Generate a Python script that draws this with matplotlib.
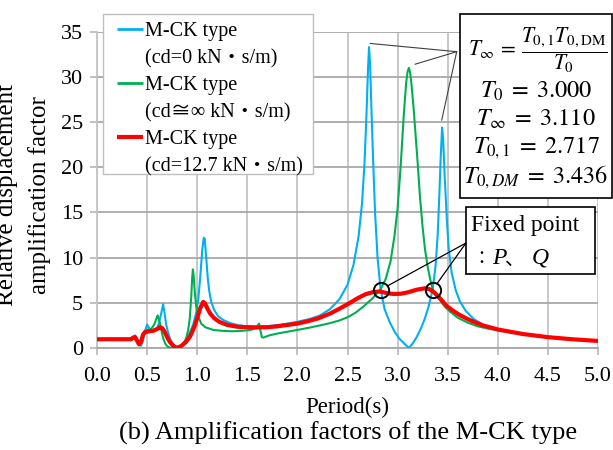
import matplotlib
matplotlib.use("Agg")
import matplotlib.pyplot as plt
from matplotlib.lines import Line2D
from matplotlib.patches import Rectangle

plt.rcParams['font.family'] = ['Liberation Serif', 'DejaVu Serif', 'Noto Sans CJK JP']
plt.rcParams['mathtext.fontset'] = 'stix'

# ---------------- data ----------------
blue_T = [0.0, 0.33, 0.36, 0.38, 0.40, 0.425, 0.44, 0.46, 0.48, 0.50, 0.52, 0.545, 0.57, 0.60, 0.62,
          0.64, 0.66, 0.675, 0.69, 0.71, 0.73, 0.76, 0.79, 0.81, 0.84, 0.87, 0.90, 0.93, 0.96, 0.99,
          1.01, 1.03, 1.05, 1.065, 1.075, 1.09, 1.105, 1.12, 1.14, 1.17, 1.21, 1.26, 1.33, 1.42, 1.55,
          1.7, 1.85, 2.0, 2.12, 2.225, 2.325, 2.42, 2.5, 2.56, 2.61, 2.645, 2.67, 2.69, 2.705, 2.715,
          2.725, 2.74, 2.755, 2.775, 2.8, 2.83, 2.87, 2.92, 2.97, 3.02, 3.07, 3.113, 3.15, 3.19, 3.23,
          3.27, 3.31, 3.35, 3.38, 3.40, 3.415, 3.43, 3.444, 3.455, 3.47, 3.49, 3.51, 3.54, 3.58, 3.62,
          3.68, 3.76, 3.85, 3.95, 4.05, 4.25, 4.5, 4.75, 5.0]
blue_A = [1.0, 1.0, 1.15, 1.4, 1.0, 0.35, 0.25, 0.9, 1.9, 2.6, 2.2, 1.85, 1.9, 2.2, 2.8,
          3.8, 4.85, 3.8, 2.6, 1.7, 1.0, 0.4, 0.08, 0.04, 0.25, 0.6, 1.1, 1.8, 2.6, 3.9,
          5.3, 7.8, 10.8, 12.2, 12.1, 10.0, 7.8, 6.3, 5.1, 4.2, 3.5, 3.1, 2.75, 2.5, 2.35,
          2.4, 2.6, 2.9, 3.2, 3.6, 4.3, 5.4, 7.0, 9.2, 12.3, 16.0, 20.5, 26.0, 31.0, 33.3,
          31.5, 26.0, 21.0, 15.0, 10.0, 6.5, 4.3, 2.9, 1.8, 1.0, 0.45, 0.0, 0.5, 1.2, 2.1,
          3.2, 4.6, 6.5, 9.2, 12.5, 16.5, 21.0, 24.4, 23.0, 19.0, 14.5, 11.0, 8.3, 6.4, 5.2,
          4.1, 3.2, 2.6, 2.25, 1.98, 1.55, 1.2, 0.97, 0.79]

green_T = [0.0, 0.34, 0.37, 0.385, 0.40, 0.415, 0.43, 0.445, 0.46, 0.475, 0.50, 0.53, 0.555, 0.575,
           0.595, 0.605, 0.615, 0.63, 0.645, 0.66, 0.68, 0.70, 0.73, 0.77, 0.81, 0.84, 0.87, 0.89,
           0.91, 0.925, 0.94, 0.95, 0.957, 0.965, 0.975, 0.99, 1.01, 1.04, 1.08, 1.16, 1.25, 1.35,
           1.45, 1.53, 1.59, 1.605, 1.617, 1.63, 1.645, 1.66, 1.72, 1.8, 1.9, 2.0, 2.12, 2.225,
           2.325, 2.42, 2.5, 2.58, 2.66, 2.75, 2.83, 2.88, 2.93, 2.97, 3.0, 3.03, 3.06, 3.085, 3.1,
           3.113, 3.125, 3.14, 3.16, 3.18, 3.2, 3.225, 3.25, 3.275, 3.3, 3.325, 3.35, 3.39, 3.43,
           3.47, 3.52, 3.6, 3.7, 3.8, 3.9, 4.0, 4.1, 4.25, 4.5, 4.75, 5.0]
green_A = [1.0, 1.0, 1.1, 1.2, 0.9, 0.5, 0.55, 1.0, 1.6, 1.9, 2.0, 2.05, 2.3, 2.7,
           3.3, 3.6, 3.3, 2.6, 1.8, 1.1, 0.5, 0.2, 0.03, 0.0, 0.05, 0.25, 0.6, 1.1,
           2.0, 3.2, 5.5, 7.8, 8.7, 8.0, 6.3, 4.6, 3.5, 2.7, 2.3, 2.0, 1.9, 1.85,
           1.9, 2.0, 2.2, 2.5, 2.7, 2.0, 1.2, 1.15, 1.4, 1.6, 1.8, 2.0, 2.25, 2.5,
           2.75, 3.05, 3.4, 3.9, 4.6, 5.5, 6.5, 7.6, 9.6, 12.5, 15.5, 20.0, 25.5, 29.3, 30.6,
           31.0, 30.5, 29.0, 26.5, 23.5, 20.5, 16.5, 13.3, 10.8, 9.0, 7.6, 6.5, 5.9, 5.2,
           4.6, 4.05, 3.35, 2.8, 2.4, 2.15, 1.95, 1.78, 1.5, 1.2, 0.96, 0.78]

red_T = [0.0, 0.34, 0.36, 0.38, 0.40, 0.42, 0.44, 0.46, 0.48, 0.52, 0.56, 0.6, 0.63, 0.65, 0.675,
         0.70, 0.727, 0.76, 0.79, 0.82, 0.85, 0.89, 0.93, 0.97, 1.0, 1.03, 1.06, 1.08, 1.1, 1.13,
         1.17, 1.22, 1.3, 1.4, 1.5, 1.6, 1.7, 1.8, 1.9, 2.0, 2.1, 2.2, 2.325, 2.42, 2.51, 2.6,
         2.68, 2.76, 2.83, 2.9, 2.96, 3.03, 3.1, 3.19, 3.27, 3.32, 3.37, 3.43, 3.49, 3.55, 3.62,
         3.7, 3.76, 3.85, 4.0, 4.1, 4.25, 4.5, 4.75, 5.0]
red_A = [0.97, 0.97, 1.15, 1.2, 0.8, 0.4, 0.7, 1.5, 1.75, 1.85, 1.9, 2.1, 2.3, 2.2, 1.8,
         1.2, 0.67, 0.25, 0.04, 0.1, 0.3, 0.7, 1.3, 2.3, 3.3, 4.4, 5.1, 4.9, 4.4, 3.8,
         3.3, 2.9, 2.55, 2.35, 2.3, 2.28, 2.3, 2.4, 2.55, 2.7, 2.95, 3.25, 3.8, 4.35, 4.9, 5.5,
         5.95, 6.2, 6.25, 6.05, 5.98, 6.0, 6.15, 6.45, 6.6, 6.5, 6.1, 5.4, 4.65, 4.15, 3.65,
         3.2, 2.9, 2.5, 2.05, 1.85, 1.55, 1.2, 0.96, 0.78]

fixed_T = [2.83, 3.35]
fixed_A = [6.45, 6.45]

legend_titles = ["M-CK type", "M-CK type", "M-CK type"]
legend_params = ["(cd=0 kN・s/m)", "(cd≅∞ kN・s/m)", "(cd=12.7 kN・s/m)"]
series_colors = ["#00B0F0", "#00B050", "#FF0000"]

x_ticks = [0.0, 0.5, 1.0, 1.5, 2.0, 2.5, 3.0, 3.5, 4.0, 4.5, 5.0]
y_ticks = [0, 5, 10, 15, 20, 25, 30, 35]

box_lines = [r"$T_0\;=\;3.000$", r"$T_\infty\;=\;3.110$", r"$T_{0,1}\;=\;2.717$", r"$T_{0,DM}\;=\;3.436$"]

# ---------------- figure ----------------
W, H = 613, 450
fig = plt.figure(figsize=(W / 100, H / 100), dpi=100)
ax = fig.add_axes([97 / W, 1 - 348 / H, (598 - 97) / W, (348 - 31.7) / H])

l1, = ax.plot(blue_T, blue_A, color=series_colors[0], lw=1.5, zorder=3, solid_joinstyle='round')
l2, = ax.plot(green_T, green_A, color=series_colors[1], lw=1.5, zorder=4, solid_joinstyle='round')
l3, = ax.plot(red_T, red_A, color=series_colors[2], lw=3.0, zorder=5, solid_joinstyle='round')

ax.set_xlim(0, 5)
ax.set_ylim(0, 35)
ax.set_xticks(x_ticks)
ax.set_xticklabels([f"{v:.1f}" for v in x_ticks])
ax.set_yticks(y_ticks)
ax.tick_params(axis='both', labelsize=16, direction='out', length=5, width=1.1, color='#b0b0b0')
ax.tick_params(axis='x', pad=9)
ax.tick_params(axis='y', pad=5)
ax.xaxis.grid(True, color='#c4c4c4', lw=1.3)
ax.yaxis.grid(True, color='#a8a8a8', lw=1.3)
ax.set_axisbelow(True)
for s in ['top', 'right']:
    ax.spines[s].set_visible(False)
ax.spines['left'].set_color('#c4c4c4')
ax.spines['left'].set_linewidth(1.3)
ax.spines['bottom'].set_color('#a8a8a8')
ax.spines['bottom'].set_linewidth(1.3)

# fixed point circles
ax.plot(fixed_T, fixed_A, linestyle='none', marker='o', markersize=11, markerfacecolor='none',
        markeredgecolor='black', markeredgewidth=1.4, zorder=6)

# legend (frame drawn separately)
fig.patches.append(Rectangle((103 / W, 1 - 174 / H), (313 - 103) / W, (174 - 14) / H,
                             transform=fig.transFigure, facecolor='white', edgecolor='#bfbfbf',
                             lw=1.0, zorder=8))
blank = Line2D([], [], color='none')
handles = [l1, blank, l2, blank, l3, blank]
labels = []
for t, p in zip(legend_titles, legend_params):
    labels += [t, p]
leg = fig.legend(handles, labels, loc='upper left', bbox_to_anchor=(117 / W, 1 - 22 / H),
                 fontsize=14.5, frameon=False, handlelength=1.3, handletextpad=0.1,
                 labelspacing=0.39, borderpad=0, borderaxespad=0)
leg.set_zorder(9)
for h in leg.legend_handles:
    h.set_linewidth(2.0 if h.get_color() != series_colors[2] else 3.0)
    h.set_solid_capstyle('butt')

# axis labels & caption
fig.text(13, H - 195, "Relative displacement", rotation=90, rotation_mode='anchor',
         ha='center', va='baseline', fontsize=18, transform=None)
fig.text(46, H - 195, "amplification factor", rotation=90, rotation_mode='anchor',
         ha='center', va='baseline', fontsize=18, transform=None)
fig.text(347 / W, 1 - 407 / H, "Period(s)", ha='center', va='center', fontsize=16.5)
fig.text(348 / W, 1 - 433 / H, "(b) Amplification factors of the M-CK type", ha='center',
         va='center', fontsize=19)

# formula box
fig.patches.append(Rectangle((460 / W, 1 - 198 / H), (612 - 460) / W, (198 - 14) / H,
                             transform=fig.transFigure, fill=True, facecolor='white',
                             edgecolor='black', lw=1.2, zorder=10))
fig.text(538 / W, 1 - 50 / H, r"$T_\infty\,=\,\dfrac{T_{0,1}T_{0,\mathrm{DM}}}{T_0}$",
         ha='center', va='center', fontsize=15.5, zorder=11)
for i, s in enumerate(box_lines):
    fig.text(536 / W, 1 - (91 + 28.7 * i) / H, s, ha='center', va='center', fontsize=17.5, zorder=11)

# leader lines to peaks
origin = (456.7, H - 51.7)
for xy in [(2.725, 33.7), (3.174, 31.4), (3.44, 25.2)]:
    ax.annotate('', xy=xy, xycoords='data', xytext=origin, textcoords='figure pixels',
                arrowprops=dict(arrowstyle='-', color='#404040', lw=0.8, shrinkA=0, shrinkB=0),
                zorder=7, annotation_clip=False)

# fixed point box
fig.patches.append(Rectangle((466 / W, 1 - 274 / H), (595 - 466) / W, (274 - 207) / H,
                             transform=fig.transFigure, fill=True, facecolor='white',
                             edgecolor='black', lw=1.2, zorder=10))
fig.text(471 / W, 1 - 225 / H, "Fixed point", ha='left', va='center', fontsize=17, zorder=11)
fig.text(472 / W, 1 - 259 / H, "：", ha='left', va='center', fontsize=13,
         family=['Noto Sans CJK JP'], zorder=11)
fig.text(492 / W, 1 - 258 / H, "P", ha='left', va='center', fontsize=17, style='italic', zorder=11)
fig.text(505 / W, 1 - 259 / H, "、", ha='left', va='center', fontsize=14,
         family=['Noto Sans CJK JP'], zorder=11)
fig.text(532 / W, 1 - 258 / H, "Q", ha='left', va='center', fontsize=17, style='italic', zorder=11)
for fx, fy in zip(fixed_T, fixed_A):
    ax.annotate('', xy=(fx, fy), xycoords='data', xytext=(466, H - 243), textcoords='figure pixels',
                arrowprops=dict(arrowstyle='-', color='black', lw=0.9, shrinkA=0, shrinkB=5.5),
                zorder=7, annotation_clip=False)

fig.savefig("out.png", dpi=100)
